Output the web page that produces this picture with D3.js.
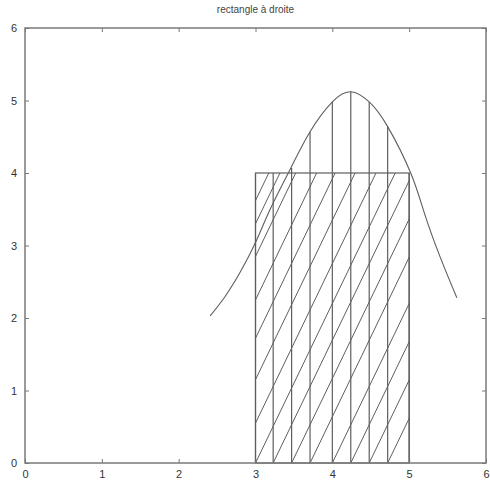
<!DOCTYPE html>
<html><head><meta charset="utf-8">
<script src="https://cdn.jsdelivr.net/npm/d3@7"></script>
<style>body{margin:0;background:#fff}svg{display:block}</style>
</head><body>
<script>
const titleText = "rectangle à droite";
const xTicks = [0,1,2,3,4,5,6];
const yTicks = [0,1,2,3,4,5,6];
// curve points
const curveX = [2.41, 2.60, 2.80, 3.00, 3.20, 3.46, 3.71, 4.00, 4.24, 4.48, 4.72, 5.02, 5.20, 5.40, 5.62];
const curveY = [2.03, 2.29, 2.63, 3.04, 3.52, 4.07, 4.57, 4.98, 5.12, 4.98, 4.64, 4.00, 3.44, 2.85, 2.28];
// partition points (vertical lines) and their tops
const partX   = [3, 3.23, 3.47, 3.71, 4.00, 4.24, 4.48, 4.72, 5];
const partTop = [4, 4, 4.07, 4.57, 4.98, 5.12, 4.98, 4.64, 4.0];
// rectangle
const rectX = [3, 5];
const rectH = 4;
// hatch lines: starting points on bottom edge and left edge
const hatchBottomX = [3, 3.23, 3.47, 3.71, 4.00, 4.24, 4.48, 4.72];
const hatchLeftY = [0.55, 1.15, 1.72, 2.25, 2.85, 3.3, 3.62];
const hatchSlope = 2.2;

const W = 490, H = 480;
const svg = d3.select("body").append("svg").attr("width", W).attr("height", H);
const x = d3.scaleLinear([0,6],[25,486]);
const y = d3.scaleLinear([0,6],[463,28]);
const lineCol = "#5e5e5e";

// title
svg.append("text").attr("x", (x(0)+x(6))/2).attr("y", 13).attr("text-anchor","middle")
  .attr("font-family","Liberation Sans, Arial, sans-serif").attr("font-size",10).attr("fill","#444")
  .text(titleText);

// clip for hatch
svg.append("clipPath").attr("id","rc").append("rect")
  .attr("x", x(rectX[0])).attr("y", y(rectH)).attr("width", x(rectX[1])-x(rectX[0])).attr("height", y(0)-y(rectH));

const g = svg.append("g");
const hatch = g.append("g").attr("clip-path","url(#rc)");
const segs = [];
hatchBottomX.forEach(b => segs.push([[b,0],[b+rectH/hatchSlope, rectH]]));
hatchLeftY.forEach(h => segs.push([[rectX[0],h],[rectX[0]+(rectH-h)/hatchSlope, rectH]]));
hatch.selectAll("line").data(segs).join("line")
  .attr("x1", d=>x(d[0][0])).attr("y1", d=>y(d[0][1]))
  .attr("x2", d=>x(d[1][0])).attr("y2", d=>y(d[1][1]))
  .attr("stroke", lineCol).attr("stroke-width", 1);

// rectangle
g.append("rect").attr("x", x(rectX[0])).attr("y", y(rectH))
  .attr("width", x(rectX[1])-x(rectX[0])).attr("height", y(0)-y(rectH))
  .attr("fill","none").attr("stroke", lineCol).attr("stroke-width",1.2);

// vertical lines
g.selectAll(".v").data(partX.map((d,i)=>[d,partTop[i]])).join("line").attr("class","v")
  .attr("x1", d=>x(d[0])).attr("x2", d=>x(d[0]))
  .attr("y1", y(0)).attr("y2", d=>y(d[1]))
  .attr("stroke", lineCol).attr("stroke-width", 1.2);

// curve
const pts = curveX.map((d,i)=>[d,curveY[i]]);
g.append("path").datum(pts)
  .attr("d", d3.line().x(d=>x(d[0])).y(d=>y(d[1])).curve(d3.curveNatural))
  .attr("fill","none").attr("stroke", lineCol).attr("stroke-width",1.1);

// axes
const font = "Liberation Sans, Arial, sans-serif";
const fmt = d3.format("d");
const axB = svg.append("g").attr("transform",`translate(0,${y(0)})`)
  .call(d3.axisBottom(x).tickValues(xTicks).tickFormat(fmt).tickSizeInner(-4).tickSizeOuter(0).tickPadding(7));
const axL = svg.append("g").attr("transform",`translate(${x(0)},0)`)
  .call(d3.axisLeft(y).tickValues(yTicks).tickFormat(fmt).tickSizeInner(-4).tickSizeOuter(0).tickPadding(8));
const axT = svg.append("g").attr("transform",`translate(0,${y(6)})`)
  .call(d3.axisTop(x).tickValues(xTicks).tickSizeInner(-4).tickSizeOuter(0).tickFormat(""));
const axR = svg.append("g").attr("transform",`translate(${x(6)},0)`)
  .call(d3.axisRight(y).tickValues(yTicks).tickSizeInner(-4).tickSizeOuter(0).tickFormat(""));
[axB,axL,axT,axR].forEach(a=>{
  a.select(".domain").remove();
  a.selectAll(".tick line").attr("stroke","#777");
  a.selectAll("text").attr("font-family",font).attr("font-size",11).attr("fill","#333");
});
svg.append("rect").attr("x",x(0)).attr("y",y(6)).attr("width",x(6)-x(0)).attr("height",y(0)-y(6))
  .attr("fill","none").attr("stroke","#7a7a7a").attr("stroke-width",1.5);
</script>
</body></html>
